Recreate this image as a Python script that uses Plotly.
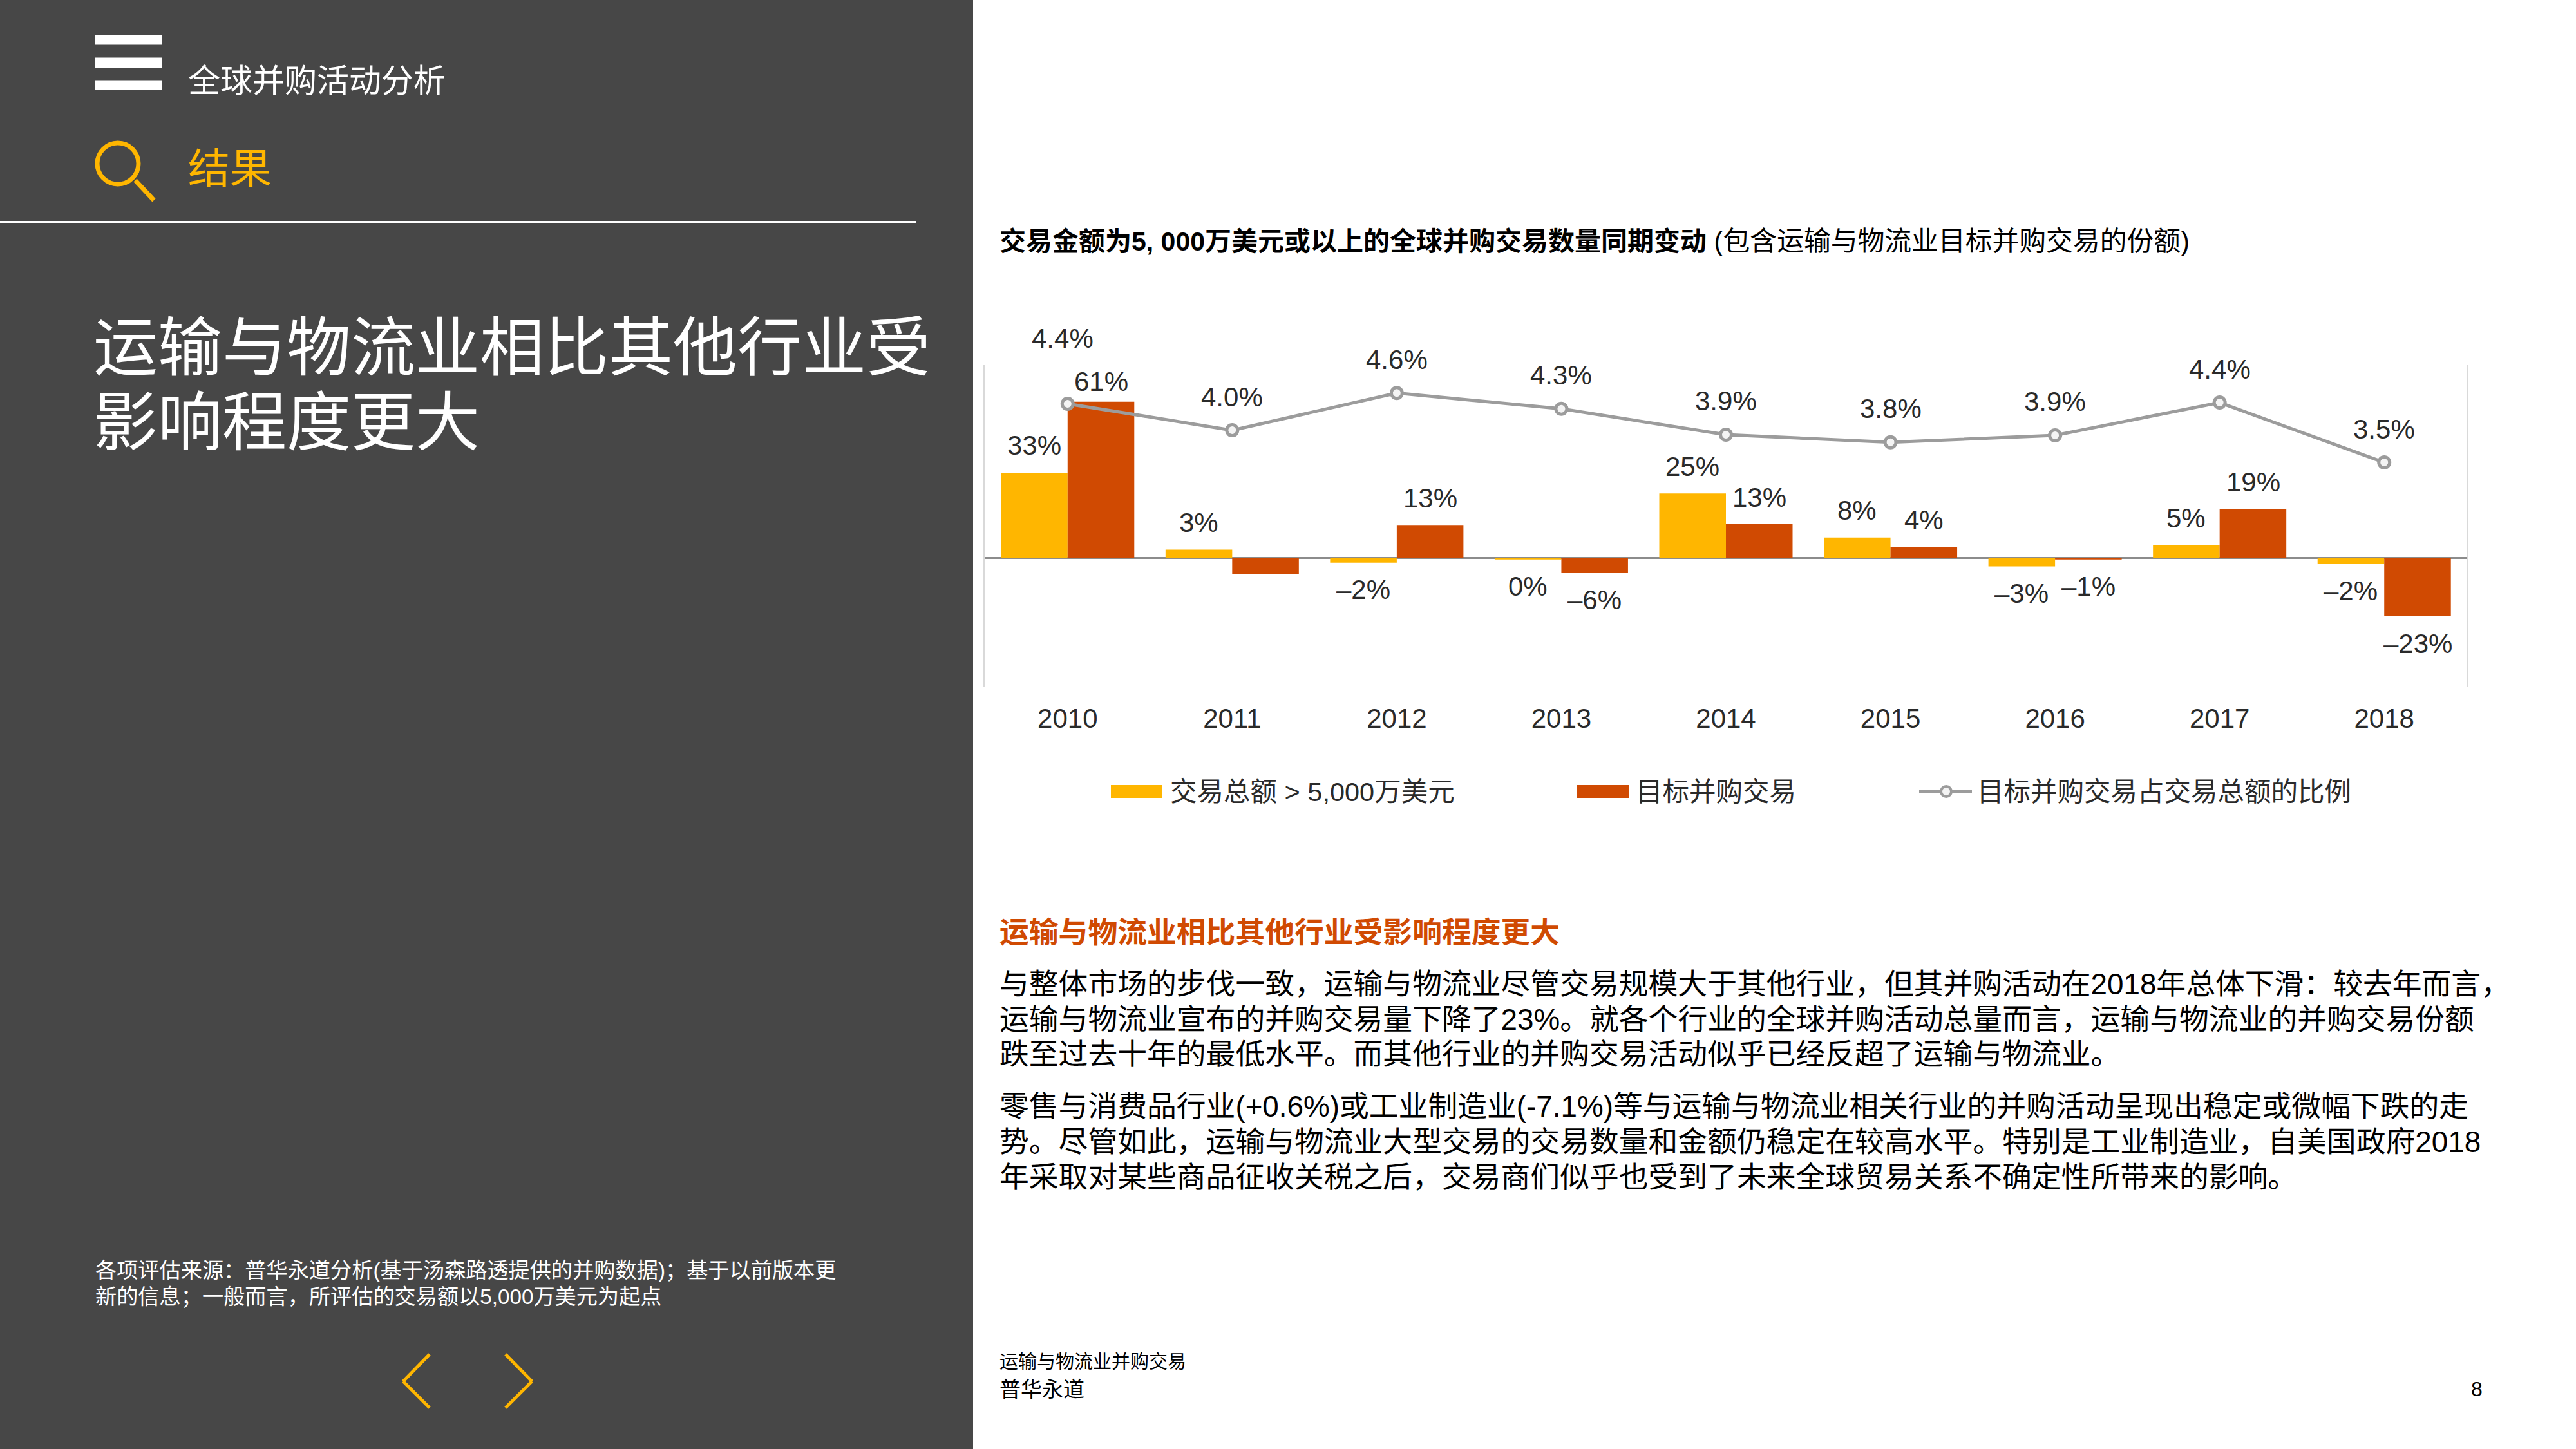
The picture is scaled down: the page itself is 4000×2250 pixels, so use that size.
import plotly.graph_objects as go

W, H = 4000, 2250

# ---- data ----
years = ["2010", "2011", "2012", "2013", "2014", "2015", "2016", "2017", "2018"]
deals_total = [33.3, 3.3, -1.8, -0.5, 25.2, 8.0, -3.2, 5.0, -2.3]
deals_target = [61.0, -6.2, 12.9, -5.8, 13.2, 4.3, -0.5, 19.2, -22.7]
target_share = [4.43, 4.01, 4.60, 4.35, 3.94, 3.82, 3.93, 4.45, 3.50]

total_labels = ["33%", "3%", "–2%", "0%", "25%", "8%", "–3%", "5%", "–2%"]
target_labels = ["61%", "", "13%", "–6%", "13%", "4%", "–1%", "19%", "–23%"]
share_labels = ["4.4%", "4.0%", "4.6%", "4.3%", "3.9%", "3.8%", "3.9%", "4.4%", "3.5%"]

series_names = ["交易总额 > 5,000万美元", "目标并购交易", "目标并购交易占交易总额的比例"]

header = "全球并购活动分析"
section = "结果"
title_lines = ["运输与物流业相比其他行业受", "影响程度更大"]
source_lines = ["各项评估来源\uff1a普华永道分析(基于汤森路透提供的并购数据)\uff1b基于以前版本更",
                "新的信息\uff1b一般而言\uff0c所评估的交易额以5,000万美元为起点"]
chart_title_bold = "交易金额为5, 000万美元或以上的全球并购交易数量同期变动"
chart_title_rest = " (包含运输与物流业目标并购交易的份额)"
heading = "运输与物流业相比其他行业受影响程度更大"
para_lines = [
    "与整体市场的步伐一致\uff0c运输与物流业尽管交易规模大于其他行业\uff0c但其并购活动在2018年总体下滑\uff1a较去年而言\uff0c",
    "运输与物流业宣布的并购交易量下降了23%。就各个行业的全球并购活动总量而言\uff0c运输与物流业的并购交易份额",
    "跌至过去十年的最低水平。而其他行业的并购交易活动似乎已经反超了运输与物流业。",
    "零售与消费品行业(+0.6%)或工业制造业(-7.1%)等与运输与物流业相关行业的并购活动呈现出稳定或微幅下跌的走",
    "势。尽管如此\uff0c运输与物流业大型交易的交易数量和金额仍稳定在较高水平。特别是工业制造业\uff0c自美国政府2018",
    "年采取对某些商品征收关税之后\uff0c交易商们似乎也受到了未来全球贸易关系不确定性所带来的影响。",
]
footer_doc = "运输与物流业并购交易"
footer_org = "普华永道"
page_no = "8"

# ---- style ----
PANEL = "#474747"
YELLOW = "#FFB600"
RED = "#D04A02"
GREY = "#9C9C9C"
FONT = "Liberation Sans, Noto Sans CJK SC, sans-serif"
LABEL = "#2A2A2A"

def fx(x): return x / W
def fy(y): return 1 - y / H

fig = go.Figure()
fig.add_bar(x=years, y=deals_total, name=series_names[0], marker_color=YELLOW,
            marker_line_width=0, showlegend=False)
fig.add_bar(x=years, y=deals_target, name=series_names[1], marker_color=RED,
            marker_line_width=0, showlegend=False)
fig.add_scatter(x=years, y=target_share, name=series_names[2], yaxis="y2", mode="lines+markers",
                line=dict(color=GREY, width=5),
                marker=dict(size=17, color="#F4F4F4", line=dict(color=GREY, width=5)),
                showlegend=False)

shapes = []
anns = []

def rect(x0, y0, x1, y1, color, layer="above"):
    shapes.append(dict(type="rect", xref="paper", yref="paper", x0=fx(x0), x1=fx(x1),
                       y0=fy(y1), y1=fy(y0), fillcolor=color, line_width=0, layer=layer))

def line(x0, y0, x1, y1, color, width):
    shapes.append(dict(type="line", xref="paper", yref="paper", x0=fx(x0), x1=fx(x1),
                       y0=fy(y0), y1=fy(y1), line=dict(color=color, width=width)))

def text(x, y, s, size, color="#000000", anchor="left"):
    anns.append(dict(xref="paper", yref="paper", x=fx(x), y=fy(y), text=s, showarrow=False,
                     xanchor=anchor, yanchor="middle", align="left",
                     font=dict(size=size, color=color, family=FONT)))

# left panel
rect(0, 0, 1511, H, PANEL, layer="below")
for y0, y1 in [(54, 69.5), (89.5, 105), (124.5, 140)]:
    rect(147, y0, 251, y1, "#FFFFFF")
shapes.append(dict(type="circle", xref="paper", yref="paper", x0=fx(151), x1=fx(215),
                   y0=fy(286), y1=fy(222), line=dict(color=YELLOW, width=7)))
line(210, 280, 239, 311, YELLOW, 7)
line(0, 345, 1423, 345, "#FFFFFF", 4)
line(667, 2103, 626, 2145, YELLOW, 5)
line(626, 2145, 667, 2186, YELLOW, 5)
line(785, 2103, 826, 2145, YELLOW, 5)
line(826, 2145, 785, 2186, YELLOW, 5)

text(290, 126, header, 50, "#FFFFFF")
text(290, 262, section, 65, YELLOW)
for y, s in zip([540, 656], title_lines):
    text(143, y, s, 100, "#FFFFFF")
for y, s in zip([1972, 2013], source_lines):
    text(146, y, s, 33.2, "#FFFFFF")

# right page texts
text(1550, 374, f'<b>{chart_title_bold}</b><span style="font-size:41.8px">{chart_title_rest}</span>', 41, "#000000")
text(1550, 1448, f"<b>{heading}</b>", 45.8, RED)
for y, s in zip([1528, 1583, 1637, 1718, 1773, 1828], para_lines):
    text(1550, y, s, 45.8, "#000000")
text(1550, 2115, footer_doc, 29, "#000000")
text(1550, 2157, footer_org, 33, "#000000")
text(3846, 2157, page_no, 32, "#000000", anchor="center")

# hand-built legend, matching the wide swatches of the original
rect(1725, 1219, 1805, 1239, YELLOW)
text(1815, 1229, series_names[0], 41.5, LABEL)
rect(2449, 1219, 2529, 1239, RED)
text(2538, 1229, series_names[1], 41.5, LABEL)
line(2980, 1229, 3062, 1229, GREY, 4)
shapes.append(dict(type="circle", xref="paper", yref="paper", x0=fx(3014), x1=fx(3030),
                   y0=fy(1237), y1=fy(1221), fillcolor="#F4F4F4", line=dict(color=GREY, width=4)))
text(3068, 1229, series_names[2], 41.5, LABEL)

# data labels, anchored to the values through the axes (x = category position)
BAR_SHIFT = 52
BAR_GAP = 42
LABEL_SIZE = 42
for i, (v, s) in enumerate(zip(deals_total, total_labels)):
    anns.append(dict(x=i, y=v, xref="x", yref="y", text=s, showarrow=False, xshift=-BAR_SHIFT,
                     yshift=BAR_GAP if v >= 0 else -BAR_GAP, yanchor="middle",
                     font=dict(size=LABEL_SIZE, color=LABEL, family=FONT)))
for i, (v, s) in enumerate(zip(deals_target, target_labels)):
    if not s:
        continue
    gap = 31 if i == 0 else BAR_GAP
    anns.append(dict(x=i, y=v, xref="x", yref="y", text=s, showarrow=False, xshift=BAR_SHIFT,
                     yshift=gap if v >= 0 else -gap, yanchor="middle",
                     font=dict(size=LABEL_SIZE, color=LABEL, family=FONT)))
for i, (v, s) in enumerate(zip(target_share, share_labels)):
    anns.append(dict(x=i, y=v, xref="x", yref="y2", text=s, showarrow=False,
                     xshift=-8 if i == 0 else 0, yshift=101 if i == 0 else 52, yanchor="middle",
                     font=dict(size=LABEL_SIZE, color=LABEL, family=FONT)))

fig.update_layout(
    width=W, height=H, margin=dict(l=0, r=0, t=0, b=0, pad=0, autoexpand=False),
    paper_bgcolor="#FFFFFF", plot_bgcolor="rgba(0,0,0,0)",
    barmode="group", bargap=0.19, bargroupgap=0,
    font=dict(family=FONT, size=41, color=LABEL),
    showlegend=False, shapes=shapes, annotations=anns,
    xaxis=dict(type="category", domain=[fx(1530), fx(3830)], range=[-0.5, 8.5],
               categoryorder="array", categoryarray=years,
               showgrid=False, zeroline=False, showline=False, ticks="",
               ticklabelstandoff=20, tickfont=dict(size=LABEL_SIZE, color=LABEL, family=FONT)),
    yaxis=dict(domain=[fy(1067.4), fy(565.5)], range=[-50.4, 75.6], showgrid=False,
               showticklabels=False, ticks="", zeroline=True, zerolinecolor="#8C8C8C",
               zerolinewidth=3, showline=True, linecolor="#D9D9D9", linewidth=3),
    yaxis2=dict(domain=[fy(1067.4), fy(565.5)], overlaying="y", side="right", anchor="x",
                range=[-0.068, 5.058], showgrid=False, showticklabels=False, ticks="",
                zeroline=False, showline=True, linecolor="#D9D9D9", linewidth=3),
)

fig.write_html("out.html", config={"displayModeBar": False},
               post_script="document.body.style.margin='0';document.body.style.overflow='hidden';")
